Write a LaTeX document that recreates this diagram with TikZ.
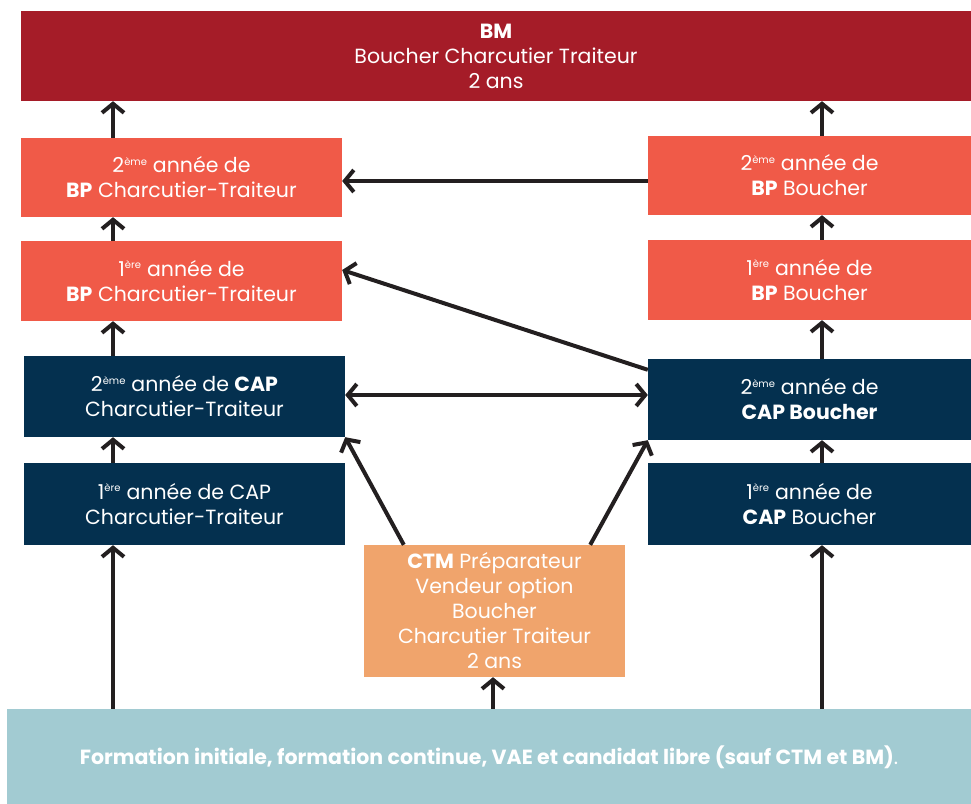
\documentclass[tikz,border=0pt]{standalone}
\usepackage{fontspec}
\setmainfont{Poppins}
\usetikzlibrary{arrows.meta}
\definecolor{bmred}{HTML}{A51C28}
\definecolor{salmon}{HTML}{F05A48}
\definecolor{navy}{HTML}{04304F}
\definecolor{ctmor}{HTML}{F0A46C}
\definecolor{tealc}{HTML}{A2CBD2}
\definecolor{arrowc}{HTML}{231F20}
\newcommand{\ex}[1]{\textsuperscript{\fontsize{10}{10}\selectfont #1}}
\tikzset{
  box/.style={rectangle, inner sep=0pt, text=white, align=center,
    font=\fontsize{20.5}{25}\selectfont},
  arr/.style={draw=arrowc, line width=4pt,
    -{Straight Barb[length=9pt,width=22pt,line width=4pt]}},
  darr/.style={draw=arrowc, line width=4pt,
    {Straight Barb[length=9pt,width=22pt,line width=4pt]}-{Straight Barb[length=9pt,width=22pt,line width=4pt]}},
}
\begin{document}
\begin{tikzpicture}[x=1pt,y=-1pt]
\useasboundingbox (0,0) rectangle (971,803);
\node[box, fill=bmred, minimum width=950pt, minimum height=90pt] (bm) at (496,56)
  {\textbf{BM}\\Boucher Charcutier Traiteur\\2 ans};
\node[box, fill=salmon, minimum width=321pt, minimum height=79pt] (bp2l) at (181.5,177.5)
  {2\ex{ème} année de\\\textbf{BP} Charcutier-Traiteur};
\node[box, fill=salmon, minimum width=323pt, minimum height=79pt] (bp2r) at (809.5,175.5)
  {2\ex{ème} année de\\\textbf{BP} Boucher};
\node[box, fill=salmon, minimum width=321pt, minimum height=80pt] (bp1l) at (181.5,281)
  {1\ex{ère} année de\\\textbf{BP} Charcutier-Traiteur};
\node[box, fill=salmon, minimum width=323pt, minimum height=80pt] (bp1r) at (809.5,280)
  {1\ex{ère} année de\\\textbf{BP} Boucher};
\node[box, fill=navy, minimum width=321pt, minimum height=81pt] (cap2l) at (184.5,396.5)
  {2\ex{ème} année de \textbf{CAP}\\Charcutier-Traiteur};
\node[box, fill=navy, minimum width=323pt, minimum height=81pt] (cap2r) at (809.5,399.5)
  {2\ex{ème} année de\\\textbf{CAP Boucher}};
\node[box, fill=navy, minimum width=321pt, minimum height=82pt] (cap1l) at (184.5,504)
  {1\ex{ère} année de CAP\\Charcutier-Traiteur};
\node[box, fill=navy, minimum width=323pt, minimum height=82pt] (cap1r) at (809.5,504)
  {1\ex{ère} année de\\\textbf{CAP} Boucher};
\node[box, fill=ctmor, minimum width=261pt, minimum height=132pt] (ctm) at (494.5,611)
  {\textbf{CTM} Préparateur\\Vendeur option\\Boucher\\Charcutier Traiteur\\2 ans};
\node[box, fill=tealc, minimum width=964pt, minimum height=96pt] (base) at (489,757)
  {\fontsize{20.5}{22}\selectfont\textbf{Formation initiale, formation continue, VAE et candidat libre (sauf CTM et BM)}.};
\coordinate (cl) at (113,0);
\coordinate (cr) at (822,0);
\coordinate (cm) at (493,0);
% left column
\draw[arr] (cl |- bp2l.north) -- (cl |- bm.south);
\draw[arr] (cl |- bp1l.north) -- (cl |- bp2l.south);
\draw[arr] (cl |- cap2l.north) -- (cl |- bp1l.south);
\draw[arr] (cl |- cap1l.north) -- (cl |- cap2l.south);
\draw[arr] (cl |- base.north) -- (cl |- cap1l.south);
% right column
\draw[arr] (cr |- bp2r.north) -- (cr |- bm.south);
\draw[arr] (cr |- bp1r.north) -- (cr |- bp2r.south);
\draw[arr] (cr |- cap2r.north) -- (cr |- bp1r.south);
\draw[arr] (cr |- cap1r.north) -- (cr |- cap2r.south);
\draw[arr] (cr |- base.north) -- (cr |- cap1r.south);
% middle
\draw[arr] (cm |- base.north) -- (cm |- ctm.south);
\draw[arr] (bp2r.west |- 0,181) -- (bp2l.east |- 0,181);
\draw[arr] ([yshift=-11pt]cap2r.north west) -- ([yshift=11pt]bp1l.east);
\draw[darr] (cap2l.east |- 0,395) -- (cap2r.west |- 0,395);
\draw[arr] ([xshift=40pt]ctm.north west) -- (cap2l.south east);
\draw[arr] ([xshift=-35pt]ctm.north east) -- (cap2r.south west);
\end{tikzpicture}
\end{document}
